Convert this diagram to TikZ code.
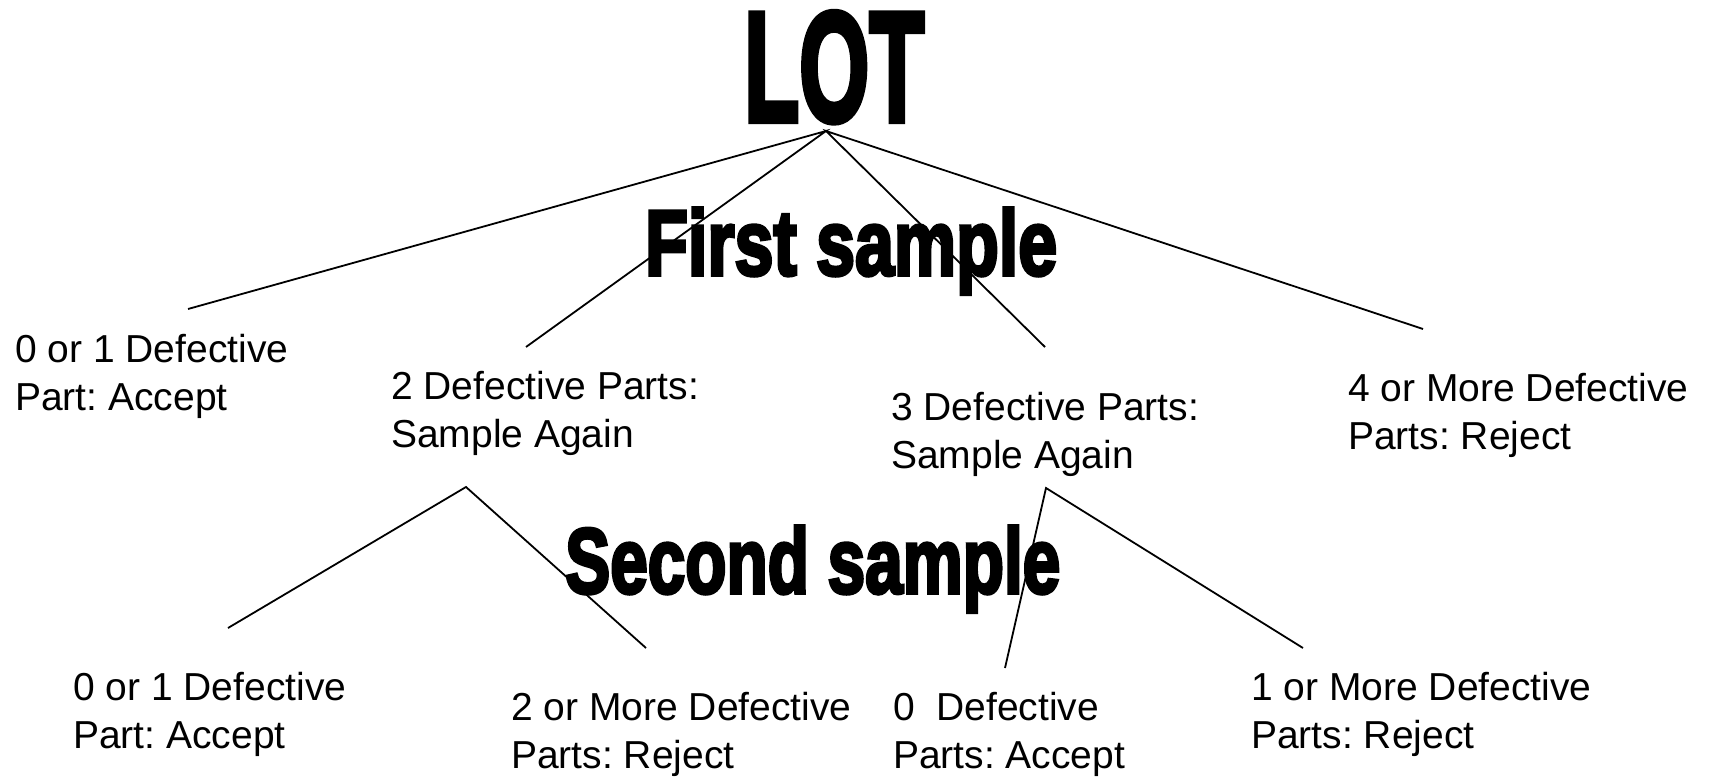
\documentclass[tikz,border=0pt]{standalone}
\usepackage{fontspec}
\usepackage{graphicx}
\setmainfont{Liberation Sans}
\newfontfamily\heavyfont{Liberation Sans}[BoldFeatures={FakeBold=4}]
\newcommand\twolines[2]{\begin{tabular}[t]{@{}l@{}}#1\\#2\end{tabular}}
\frenchspacing
\begin{document}
\begin{tikzpicture}[x=1pt,y=-1pt,
  lbl/.style={anchor=base west, inner sep=0pt, font=\fontsize{39}{48}\selectfont\frenchspacing},
  ttl/.style={anchor=base west, inner sep=0pt},
  conn/.style={line width=1.8pt, draw=black}]
\fill[white] (0,0) rectangle (1711,784);
\useasboundingbox (0,0) rectangle (1711,784);

% titles
\node[ttl] (lot) at (744,121) {\resizebox{180pt}{109pt}{\heavyfont\bfseries LOT}};
\node[ttl] (first) at (645,275) {\resizebox{412pt}{67pt}{\heavyfont\bfseries First sample}};
\node[ttl] (second) at (565,593) {\resizebox{495pt}{67pt}{\heavyfont\bfseries Second sample}};

% first-level labels
\node[lbl] (t1) at (15,362) {\twolines{0 or 1 Defective}{Part: Accept}};
\node[lbl] (t2) at (391,399) {\twolines{2 Defective Parts:}{Sample Again}};
\node[lbl] (t3) at (891,420) {\twolines{3 Defective Parts:}{Sample Again}};
\node[lbl] (t4) at (1348,401) {\twolines{4 or More Defective}{Parts: Reject}};

% second-level labels
\node[lbl] (b1) at (73,700) {\twolines{0 or 1 Defective}{Part: Accept}};
\node[lbl] (b2) at (511,720) {\twolines{2 or More Defective}{Parts: Reject}};
\node[lbl] (b3) at (893,720) {\twolines{0\ \ Defective}{Parts: Accept}};
\node[lbl] (b4) at (1251,700) {\twolines{1 or More Defective}{Parts: Reject}};

% connector points
\coordinate (lotapex) at (826,131);
\coordinate (e1) at (188,309);
\coordinate (e2) at (526,347);
\coordinate (e3) at (1045,347);
\coordinate (e4) at (1423,329);
\coordinate (apexA) at (466,487);
\coordinate (a1) at (228,628);
\coordinate (a2) at (646,648);
\coordinate (apexB) at (1046,488);
\coordinate (c1) at (1005,668);
\coordinate (c2) at (1303,648);

\draw[conn] (e1) -- (lotapex) -- (e2);
\draw[conn] (e3) -- (lotapex) -- (e4);
\draw[conn] (a1) -- (apexA) -- (a2);
\draw[conn] (c1) -- (apexB) -- (c2);
\end{tikzpicture}
\end{document}
